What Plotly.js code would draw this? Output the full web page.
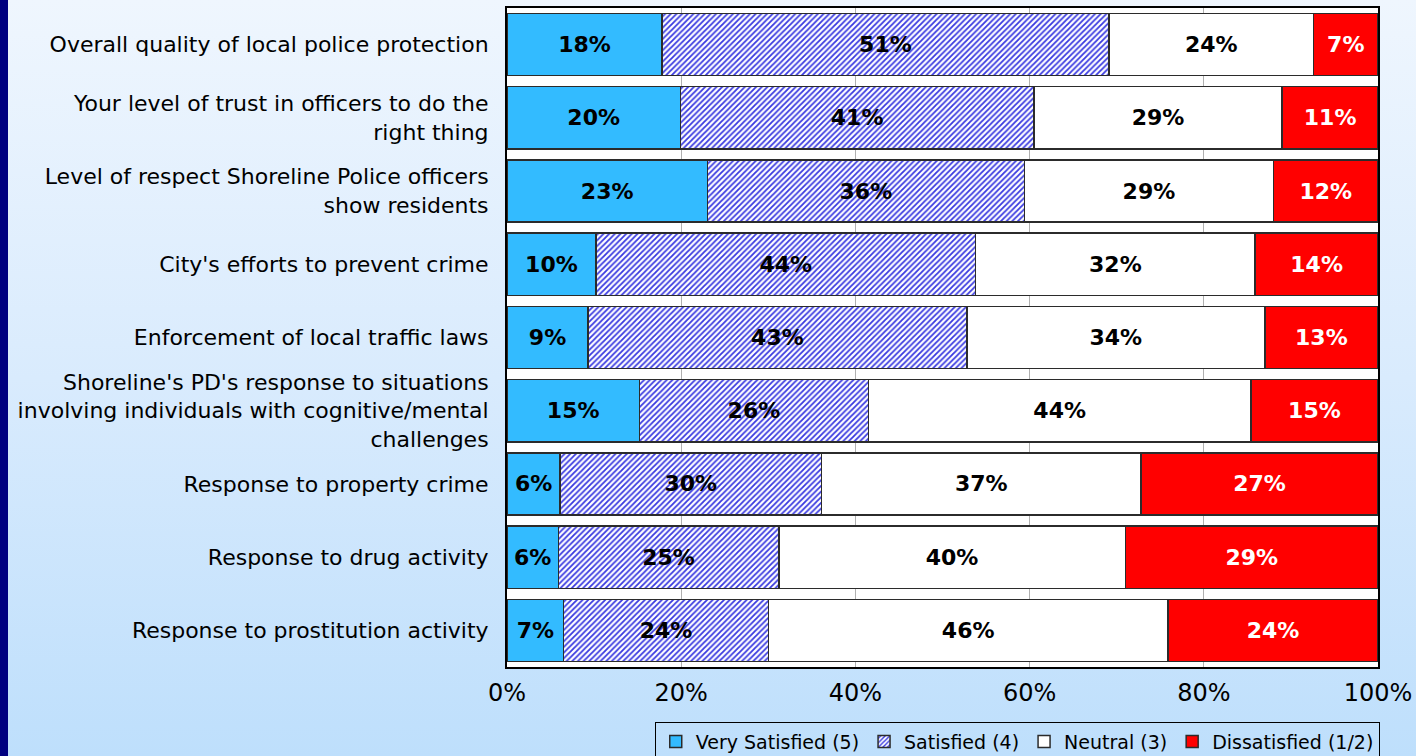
<!DOCTYPE html>
<html><head><meta charset="utf-8">
<script src="https://cdn.plot.ly/plotly-3.0.1.min.js"></script>
<style>
html,body{margin:0;padding:0;width:1416px;height:756px;overflow:hidden;}
body{background:linear-gradient(to bottom,#eff6fe 0%,#d9ebfd 50%,#bedffc 100%);}
#strip{position:absolute;left:0;top:0;width:8px;height:756px;background:#000080;}
#chart{position:absolute;left:0;top:0;width:1416px;height:756px;}
</style></head>
<body><div id="strip"></div><div id="chart"></div>
<script>
const categories = [
  "Overall quality of local police protection",
  "Your level of trust in officers to do the<br>right thing",
  "Level of respect Shoreline Police officers<br>show residents",
  "City's efforts to prevent crime",
  "Enforcement of local traffic laws",
  "Shoreline's PD's response to situations<br>involving individuals with cognitive/mental<br>challenges",
  "Response to property crime",
  "Response to drug activity",
  "Response to prostitution activity"
];
// segment widths (percent)
const verySatisfied = [17.8, 19.9, 23.0, 10.2, 9.3, 15.2, 6.1, 5.9, 6.5];
const satisfied     = [51.3, 40.6, 36.4, 43.6, 43.5, 26.3, 30.0, 25.3, 23.5];
const neutral       = [23.5, 28.5, 28.6, 32.1, 34.2, 43.9, 36.7, 39.8, 45.9];
const dissatisfied  = [7.4, 11.0, 12.0, 14.1, 13.0, 14.6, 27.2, 29.0, 24.1];
// printed labels on the bars (percent)
const verySatisfiedLabels = [18, 20, 23, 10, 9, 15, 6, 6, 7];
const satisfiedLabels     = [51, 41, 36, 44, 43, 26, 30, 25, 24];
const neutralLabels       = [24, 29, 29, 32, 34, 44, 37, 40, 46];
const dissatisfiedLabels  = [7, 11, 12, 14, 13, 15, 27, 29, 24];
const seriesNames = ["Very Satisfied (5)", "Satisfied (4)", "Neutral (3)", "Dissatisfied (1/2)"];
const tickVals = [0, 20, 40, 60, 80, 100];
const tickText = ["0%", "20%", "40%", "60%", "80%", "100%"];

const FONT = "DejaVu Sans, Verdana, sans-serif";
const line = {color: "#2b2b2b", width: 1.5};
const tfont = {family: FONT, size: 22, color: "#000", weight: "bold"};
function trace(vals, labels, name, marker, textColor) {
  return {
    type: "bar", orientation: "h", x: vals, y: categories, name: name,
    text: labels.map(v => v + "%"), textposition: "inside", insidetextanchor: "middle",
    textangle: 0, constraintext: "none",
    insidetextfont: Object.assign({}, tfont, {color: textColor}),
    marker: marker, hoverinfo: "x+name"
  };
}
const data = [
  trace(verySatisfied, verySatisfiedLabels, seriesNames[0], {color: "#33bbff", line: line}, "#000"),
  trace(satisfied, satisfiedLabels, seriesNames[1], {color: "#ffffff", line: line,
     pattern: {shape: "/", fgcolor: "#3a3ae0", bgcolor: "#ffffff", size: 4, solidity: 0.45}}, "#000"),
  trace(neutral, neutralLabels, seriesNames[2], {color: "#ffffff", line: line}, "#000"),
  trace(dissatisfied, dissatisfiedLabels, seriesNames[3], {color: "#ff0000", line: line}, "#fff")
];
const layout = {
  width: 1416, height: 756,
  paper_bgcolor: "rgba(0,0,0,0)", plot_bgcolor: "#ffffff",
  margin: {l: 507, r: 38, t: 8, b: 89, pad: 0, autoexpand: false},
  barmode: "stack", bargap: 0.15,
  font: {family: FONT, color: "#000"},
  xaxis: {range: [0, 100], tickvals: tickVals, ticktext: tickText,
    tickfont: {size: 24}, showgrid: true, gridcolor: "#b0b0b0", gridwidth: 1, zeroline: false,
    showline: true, linecolor: "#000", linewidth: 2, mirror: true,
    ticks: "", ticklabelstandoff: 3, fixedrange: true},
  yaxis: {autorange: "reversed", tickfont: {size: 22}, showgrid: false,
    showline: true, linecolor: "#000", linewidth: 2, mirror: true,
    ticks: "", ticklabelstandoff: 12, fixedrange: true},
  showlegend: true,
  legend: {orientation: "h", x: 1.002, xanchor: "right", y: -0.083, yanchor: "top",
    bgcolor: "rgba(0,0,0,0)", bordercolor: "#000", borderwidth: 1,
    font: {size: 19}, itemwidth: 30, traceorder: "normal", tracegroupgap: 0}
};
Plotly.newPlot("chart", data, layout, {displayModeBar: false, staticPlot: true});
</script></body></html>
